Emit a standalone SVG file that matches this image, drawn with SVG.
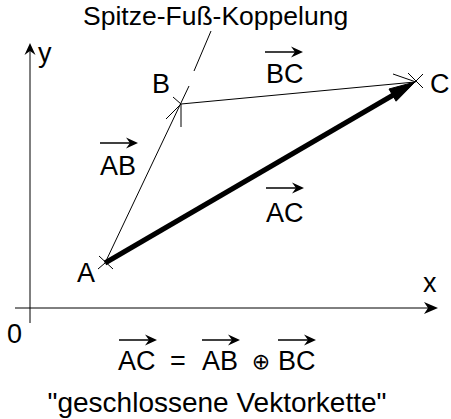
<svg xmlns="http://www.w3.org/2000/svg" width="451" height="419" viewBox="0 0 451 419">
<style>
text{font-family:"Liberation Sans",Arial,sans-serif;font-size:27px;fill:#000}
.thin{stroke:#000;stroke-width:1;fill:none}
.vec{stroke:#000;stroke-width:1.3;fill:none}
.head{fill:#000;stroke:none}
</style>
<defs>
<g id="vh">
<line x1="0" y1="0" x2="34" y2="0" class="vec"/>
<path d="M26,-5.5 L38,0 L26,5.5 L30,0 Z" class="head"/>
</g>
</defs>
<rect width="451" height="419" fill="#fff"/>
<g id="axes">
<line x1="30" y1="323" x2="30" y2="46" class="thin"/>
<path d="M30,43 L35.5,55 L30,51 L24.5,55 Z" class="head"/>
<line x1="15" y1="308" x2="434" y2="308" class="thin"/>
<path d="M438,308 L424,302 L428,308 L424,314 Z" class="head"/>
<text x="38" y="62">y</text>
<text x="423" y="292">x</text>
<text x="7" y="343">0</text>
</g>
<g id="connectors">
<line x1="105" y1="263" x2="189" y2="86" class="thin"/>
<line x1="181" y1="104" x2="415" y2="82" class="thin"/>
<line x1="211" y1="31" x2="194" y2="71" class="thin"/>
<line x1="105" y1="263" x2="395" y2="94" stroke="#000" stroke-width="5"/>
<path d="M415,82 L396.1,101.2 L389,89 Z" fill="#000" stroke="#000" stroke-width="1"/>
</g>
<g id="A">
<path d="M99,256 L113,269 M98,269 L105,263" class="thin"/>
<text x="77" y="282">A</text>
</g>
<g id="B">
<path d="M173,97 L181,104 M166,119 L181,104 M181,104 L181,127" class="thin"/>
<text x="152" y="93">B</text>
</g>
<g id="C">
<path d="M393,74 L416,82 M408,73 L423,88 M423,74 L412,85" class="thin"/>
<text x="430" y="93">C</text>
</g>
<g id="labels">
<text x="83" y="25" style="font-size:26.5px">Spitze-Fuß-Koppelung</text>
<use href="#vh" x="265" y="52"/>
<text x="266" y="83">BC</text>
<use href="#vh" x="100" y="143"/>
<text x="100" y="175">AB</text>
<use href="#vh" x="266" y="188"/>
<text x="266" y="222">AC</text>
<use href="#vh" x="119" y="340"/>
<use href="#vh" x="202" y="340"/>
<use href="#vh" x="278" y="340"/>
<text y="370"><tspan x="118">AC</tspan><tspan x="170">=</tspan><tspan x="202">AB</tspan><tspan x="278">BC</tspan></text>
<text x="261" y="369" style="font-family:'DejaVu Sans',sans-serif;font-size:22px" text-anchor="middle">⊕</text>
<text x="217" y="412" text-anchor="middle" style="font-size:28px">"geschlossene Vektorkette"</text>
</g>
</svg>
